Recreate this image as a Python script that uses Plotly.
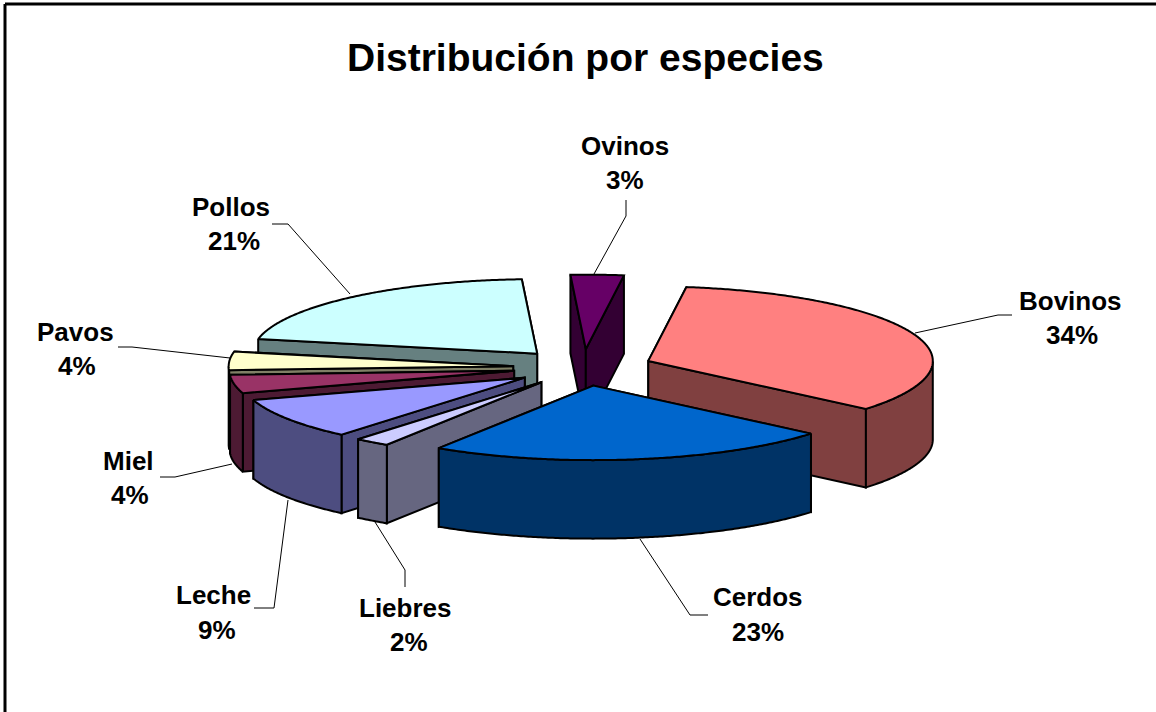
import math
import plotly.graph_objects as go

# --- data -------------------------------------------------------------
especies = ["Bovinos", "Cerdos", "Liebres", "Leche", "Miel", "Pavos", "Pollos", "Ovinos"]
porcentajes = [34, 23, 2, 9, 4, 4, 21, 3]

# --- styles -----------------------------------------------------------
top_colors = ["#FF8080", "#0066CC", "#CCCCFF", "#9999FF", "#993366", "#FFFFCC", "#CCFFFF", "#660066"]
side_colors = ["#804040", "#003366", "#666680", "#4D4D80", "#4D1A33", "#808066", "#668080", "#330033"]
draw_order = ["Ovinos", "Pollos", "Pavos", "Miel", "Leche", "Liebres", "Bovinos", "Cerdos"]

# --- pie geometry (in pixel-sized axis units) -------------------------
CX, CY = 583.0, 367.5
A, B = 284.5, 74.5
DEPTH = 78.5
EXPLODE = 0.246
START = 7.7

label_xy = {
    "Bovinos": (1070, 301, 1072, 335),
    "Cerdos": (758, 597, 758, 632),
    "Liebres": (405, 608, 409, 642),
    "Leche": (213, 595, 217, 630),
    "Miel": (128, 461, 130, 495),
    "Pavos": (75, 332, 77, 366),
    "Pollos": (231, 207, 234, 241),
    "Ovinos": (625, 146, 625, 180),
}
leaders = {
    "Bovinos": ([1012, 998, 915], [315, 315, 333]),
    "Cerdos": ([640, 690, 708], [539, 615, 615]),
    "Liebres": ([375, 405, 405], [522, 570, 587]),
    "Leche": ([288, 274, 254], [500, 608, 608]),
    "Miel": ([232, 175, 160], [464, 477, 477]),
    "Pavos": ([230, 132, 118], [358, 347, 347]),
    "Pollos": ([350, 288, 272], [294, 224, 224]),
    "Ovinos": ([594, 626, 626], [274, 216, 200]),
}

fig = go.Figure()


def poly(xs, ys, color):
    fig.add_trace(go.Scatter(
        x=xs + xs[:1], y=ys + ys[:1], mode="lines", fill="toself", fillcolor=color,
        line=dict(color="black", width=2, simplify=False), hoverinfo="skip", showlegend=False,
    ))


def rim(ax, ay, t):
    r = math.radians(t)
    return ax + A * math.sin(r), ay - B * math.cos(r)


total = sum(porcentajes)
spans = {}
acc = START
for i, name in enumerate(especies):
    sweep = 360.0 * porcentajes[i] / total
    spans[name] = (i, acc, acc + sweep)
    acc += sweep

for name in draw_order:
    i, t0, t1 = spans[name]
    mid = math.radians((t0 + t1) / 2)
    ax = CX + EXPLODE * A * math.sin(mid)
    ay = CY - EXPLODE * B * math.cos(mid)
    n = max(int(t1 - t0) * 2, 2)
    ts = [t0 + (t1 - t0) * k / n for k in range(n + 1)]
    arc = [rim(ax, ay, t) for t in ts]

    # radial faces, the farther rim point first
    faces = sorted([arc[0], arc[-1]], key=lambda p: p[1])
    for p in faces:
        poly([p[0], ax, ax, p[0]], [p[1], ay, ay + DEPTH, p[1] + DEPTH], side_colors[i])

    # outer wall: only the front half of the rim
    front = [rim(ax, ay, t) for t in ts if 90 <= (t % 360) <= 270]
    if len(front) >= 2:
        xs = [p[0] for p in front]
        ys = [p[1] for p in front]
        poly(xs + xs[::-1], ys + [y + DEPTH for y in ys[::-1]], side_colors[i])

    # top surface
    poly([ax] + [p[0] for p in arc], [ay] + [p[1] for p in arc], top_colors[i])

# leader lines
for name in especies:
    xs, ys = leaders[name]
    fig.add_trace(go.Scatter(x=xs, y=ys, mode="lines", line=dict(color="black", width=1),
                             hoverinfo="skip", showlegend=False))

# labels
for i, name in enumerate(especies):
    x1, y1, x2, y2 = label_xy[name]
    for x, y, s in ((x1, y1, name), (x2, y2, f"{porcentajes[i]}%")):
        fig.add_annotation(x=x, y=y, text=s, showarrow=False, xref="x", yref="y",
                           xanchor="center", yanchor="middle",
                           font=dict(family="Liberation Sans", size=26, color="black", weight="bold"))

fig.add_annotation(x=585.5, y=57, text="Distribución por especies", showarrow=False, xref="x", yref="y",
                   xanchor="center", yanchor="middle",
                   font=dict(family="Liberation Sans", size=39, color="black", weight="bold"))

# chart-area frame (top and left edges are in view)
fig.add_shape(type="line", x0=5, x1=1156, y0=4, y1=4, xref="x", yref="y", line=dict(color="black", width=3))
fig.add_shape(type="line", x0=5, x1=5, y0=4, y1=712, xref="x", yref="y", line=dict(color="black", width=3))

fig.update_xaxes(range=[0, 1156], visible=False, fixedrange=True)
fig.update_yaxes(range=[712, 0], visible=False, fixedrange=True)
fig.update_layout(width=1156, height=712, margin=dict(l=0, r=0, t=0, b=0),
                  paper_bgcolor="white", plot_bgcolor="white", showlegend=False)

fig.write_html("out.html", config={"displayModeBar": False},
               post_script="document.body.style.margin='0';document.documentElement.style.overflow='hidden';")
